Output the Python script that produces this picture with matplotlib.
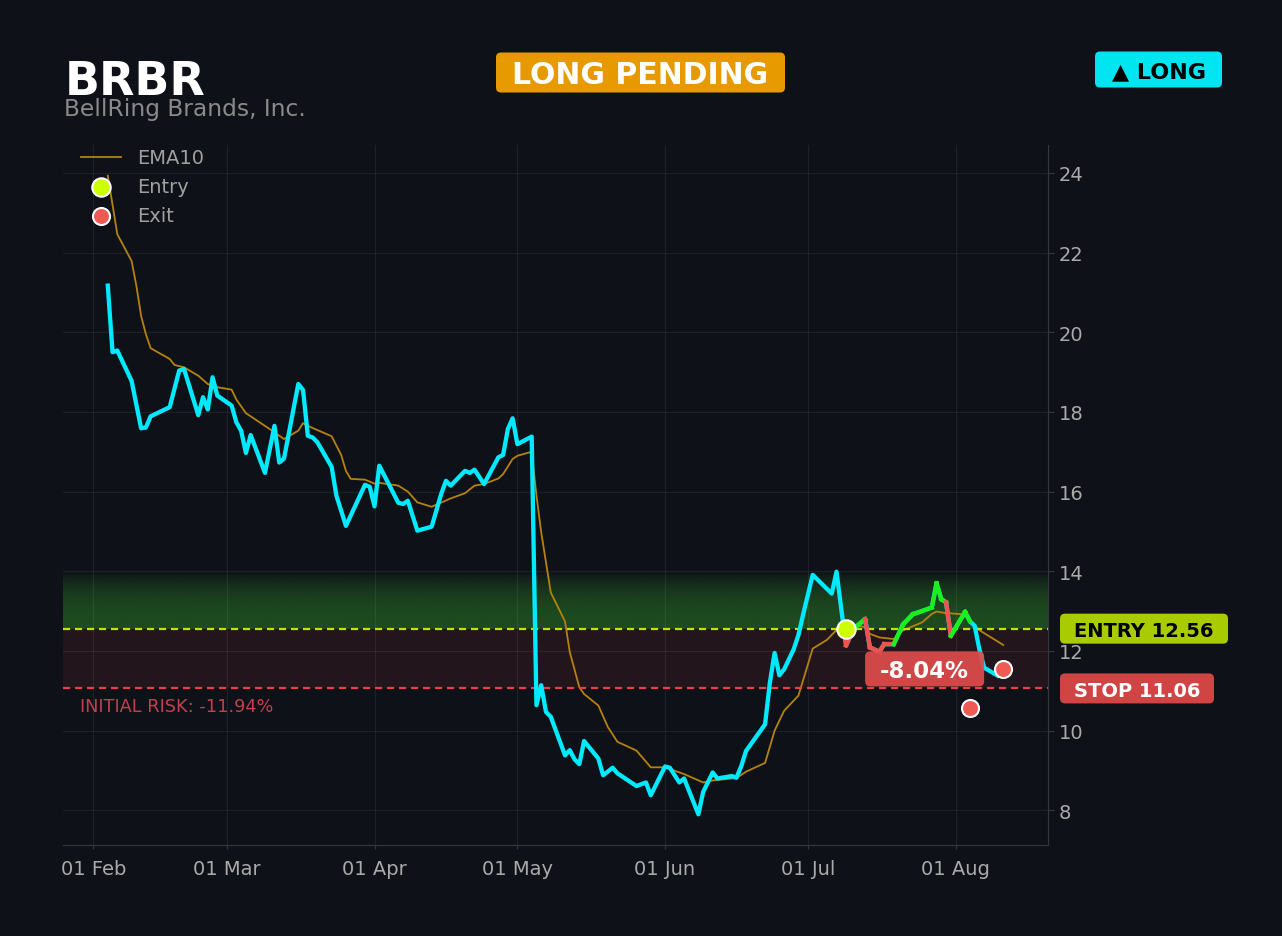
import matplotlib

matplotlib.use("Agg")
import matplotlib.dates as mdates  # noqa: E402
import matplotlib.pyplot as plt  # noqa: E402
import numpy as np  # noqa: E402
import pandas as pd  # noqa: E402
from matplotlib.patches import FancyBboxPatch  # noqa: E402

W, H, DPI = 1282, 937, 100
BG = "#0e1118"
CYAN = "#00eaff"
GREEN = "#1cf01c"
RED = "#ef5350"

ticker = "BRBR"
company = "BellRing Brands, Inc."
status = "LONG PENDING"
side = "▲ LONG"

# daily closes
close_dates = [
    "2025-02-04", "2025-02-05", "2025-02-06", "2025-02-09", "2025-02-11", "2025-02-12",
    "2025-02-13", "2025-02-17", "2025-02-19", "2025-02-20", "2025-02-23", "2025-02-24",
    "2025-02-25", "2025-02-26", "2025-02-27", "2025-03-02", "2025-03-03", "2025-03-04",
    "2025-03-05", "2025-03-06", "2025-03-09", "2025-03-11", "2025-03-12", "2025-03-13",
    "2025-03-16", "2025-03-17", "2025-03-18", "2025-03-19", "2025-03-20", "2025-03-23",
    "2025-03-24", "2025-03-26", "2025-03-30", "2025-03-31", "2025-04-01", "2025-04-02",
    "2025-04-06", "2025-04-07", "2025-04-08", "2025-04-10", "2025-04-13", "2025-04-15",
    "2025-04-16", "2025-04-17", "2025-04-20", "2025-04-21", "2025-04-22", "2025-04-24",
    "2025-04-27", "2025-04-28", "2025-04-29", "2025-04-30", "2025-05-01", "2025-05-04",
    "2025-05-05", "2025-05-06", "2025-05-07", "2025-05-08", "2025-05-11", "2025-05-12",
    "2025-05-13", "2025-05-14", "2025-05-15", "2025-05-18", "2025-05-19", "2025-05-21",
    "2025-05-22", "2025-05-26", "2025-05-28", "2025-05-29", "2025-06-01", "2025-06-02",
    "2025-06-04", "2025-06-05", "2025-06-08", "2025-06-09", "2025-06-11", "2025-06-12",
    "2025-06-15", "2025-06-16", "2025-06-17", "2025-06-18", "2025-06-22", "2025-06-23",
    "2025-06-24", "2025-06-25", "2025-06-26", "2025-06-28", "2025-06-29", "2025-06-30",
    "2025-07-02", "2025-07-06", "2025-07-07", "2025-07-08", "2025-07-09", "2025-07-10",
    "2025-07-11", "2025-07-13", "2025-07-14", "2025-07-16", "2025-07-17", "2025-07-19",
    "2025-07-21", "2025-07-23", "2025-07-27", "2025-07-28", "2025-07-29", "2025-07-30",
    "2025-07-31", "2025-08-03", "2025-08-04", "2025-08-05", "2025-08-06", "2025-08-07",
    "2025-08-10", "2025-08-11",
]
close_vals = [
    21.17, 19.50, 19.54, 18.78, 17.59, 17.61,
    17.89, 18.12, 19.04, 19.08, 17.92, 18.37,
    18.06, 18.87, 18.41, 18.16, 17.74, 17.53,
    16.97, 17.42, 16.47, 17.65, 16.73, 16.83,
    18.70, 18.55, 17.40, 17.36, 17.24, 16.62,
    15.90, 15.14, 16.17, 16.12, 15.63, 16.65,
    15.72, 15.69, 15.77, 15.02, 15.12, 15.94,
    16.27, 16.15, 16.52, 16.47, 16.55, 16.19,
    16.86, 16.92, 17.57, 17.84, 17.19, 17.38,
    10.64, 11.14, 10.47, 10.35, 9.38, 9.51,
    9.28, 9.16, 9.74, 9.30, 8.88, 9.07,
    8.93, 8.61, 8.70, 8.38, 9.10, 9.07,
    8.70, 8.80, 7.90, 8.46, 8.95, 8.80,
    8.86, 8.82, 9.11, 9.49, 10.16, 11.20,
    11.95, 11.39, 11.54, 12.04, 12.40, 12.92,
    13.91, 13.44, 13.99, 13.05, 12.14, 12.40,
    12.60, 12.80, 12.09, 11.98, 12.17, 12.17,
    12.67, 12.92, 13.09, 13.70, 13.30, 13.22,
    12.38, 12.98, 12.75, 12.63, 12.04, 11.58,
    11.37, 11.50,
]

ema_dates = [
    "2025-02-04", "2025-02-05", "2025-02-06", "2025-02-09", "2025-02-10", "2025-02-11",
    "2025-02-12", "2025-02-13", "2025-02-17", "2025-02-18", "2025-02-20", "2025-02-23",
    "2025-02-25", "2025-02-27", "2025-03-02", "2025-03-03", "2025-03-05", "2025-03-10",
    "2025-03-13", "2025-03-16", "2025-03-17", "2025-03-18", "2025-03-23", "2025-03-25",
    "2025-03-26", "2025-03-27", "2025-03-30", "2025-03-31", "2025-04-01", "2025-04-02",
    "2025-04-06", "2025-04-08", "2025-04-10", "2025-04-13", "2025-04-17", "2025-04-20",
    "2025-04-22", "2025-04-24", "2025-04-27", "2025-04-28", "2025-04-30", "2025-05-01",
    "2025-05-04", "2025-05-05", "2025-05-06", "2025-05-08", "2025-05-11", "2025-05-12",
    "2025-05-14", "2025-05-15", "2025-05-18", "2025-05-20", "2025-05-22", "2025-05-26",
    "2025-05-29", "2025-06-01", "2025-06-05", "2025-06-09", "2025-06-11", "2025-06-16",
    "2025-06-18", "2025-06-22", "2025-06-24", "2025-06-26", "2025-06-29", "2025-07-02",
    "2025-07-05", "2025-07-07", "2025-07-09", "2025-07-13", "2025-07-14", "2025-07-16",
    "2025-07-19", "2025-07-21", "2025-07-25", "2025-07-27", "2025-07-28", "2025-07-30",
    "2025-08-03", "2025-08-04", "2025-08-06", "2025-08-09", "2025-08-11",
]
ema_vals = [
    23.93, 23.20, 22.46, 21.79, 21.17, 20.41,
    19.95, 19.60, 19.33, 19.18, 19.12, 18.91,
    18.70, 18.62, 18.56, 18.31, 17.97, 17.57,
    17.32, 17.53, 17.72, 17.65, 17.39, 16.92,
    16.52, 16.32, 16.30, 16.25, 16.20, 16.22,
    16.15, 16.00, 15.73, 15.62, 15.83, 15.96,
    16.15, 16.19, 16.33, 16.44, 16.82, 16.90,
    17.00, 15.90, 14.98, 13.47, 12.74, 11.97,
    11.09, 10.92, 10.63, 10.09, 9.72, 9.50,
    9.08, 9.08, 8.91, 8.70, 8.75, 8.81,
    8.97, 9.19, 10.00, 10.50, 10.88, 12.06,
    12.28, 12.53, 12.68, 12.60, 12.43, 12.34,
    12.30, 12.52, 12.72, 12.93, 12.99, 12.95,
    12.92, 12.78, 12.52, 12.30, 12.15,
]

entry_date = "2025-07-09"
entry_price = 12.56
stop_price = 11.06
target_zone_top = 14.0
exit_dates = ["2025-08-04", "2025-08-11"]
exit_prices = [10.56, 11.55]

yticks = [8, 10, 12, 14, 16, 18, 20, 22, 24]

cd = pd.to_datetime(close_dates)
cv = np.array(close_vals)
ed = pd.to_datetime(ema_dates)
entry_dt = pd.Timestamp(entry_date)
exit_dt = pd.to_datetime(exit_dates)

fig = plt.figure(figsize=(W / DPI, H / DPI), dpi=DPI, facecolor=BG)
ax = fig.add_axes([63 / W, (H - 846) / H, 985 / W, 700 / H])
ax.set_facecolor(BG)

x0, x1 = mdates.date2num(cd[0]), mdates.date2num(cd[-1])
pad = 0.05 * (x1 - x0)

# target zone gradient + risk band
t = np.linspace(0, 1, 256)
grad = np.zeros((256, 1, 4))
grad[..., 0] = 34 / 255
grad[..., 1] = 92 / 255
grad[..., 2] = 34 / 255
grad[:, 0, 3] = 0.78 * (1 - t ** 2.5)
ax.imshow(grad, extent=[0, 1, entry_price, target_zone_top], origin="lower",
          aspect="auto", transform=ax.get_yaxis_transform(), zorder=0.2,
          interpolation="bilinear")
ax.axhspan(stop_price, entry_price, color="#22161c", lw=0, zorder=0.3)
ax.set_xlim(x0 - pad, x1 + pad)
ax.set_ylim(7.13, 24.70)

ax.axhline(entry_price, color="#c6e000", lw=1.6, dashes=(3.2, 2.2), zorder=2.5)
ax.axhline(stop_price, color="#e04444", lw=1.6, dashes=(3.2, 2.2), zorder=2.5)

ema_line, = ax.plot(ed, ema_vals, color="#b5820e", lw=1.3, zorder=2, label="EMA10")
ax.plot(cd, cv, color=CYAN, lw=3.1, zorder=3)

# trade path coloured against the entry price
mask = (cd >= entry_dt) & (cd <= exit_dt[0])
tx = [entry_dt] + list(cd[mask])
ty = [entry_price] + list(cv[mask])
for i in range(len(tx) - 1):
    c = GREEN if ty[i + 1] >= entry_price else RED
    ax.plot(tx[i:i + 2], ty[i:i + 2], color=c, lw=3.1, zorder=4)

ent = ax.scatter([entry_dt], [entry_price], s=175, color="#ccff00", edgecolor="white",
                 lw=1.5, zorder=6, label="Entry")
ex = ax.scatter(exit_dt, exit_prices, s=150, color="#f05a55", edgecolor="white",
                lw=1.5, zorder=6, label="Exit")

# axes styling
ax.grid(True, color="white", alpha=0.065, lw=0.9)
ax.set_axisbelow(True)
for s in ("left", "top"):
    ax.spines[s].set_visible(False)
for s in ("right", "bottom"):
    ax.spines[s].set_color("#353840")
ax.yaxis.tick_right()
ax.set_yticks(yticks)
ax.xaxis.set_major_locator(mdates.MonthLocator())
ax.xaxis.set_major_formatter(mdates.DateFormatter("%d %b"))
ax.tick_params(axis="y", colors="#353840", labelcolor="#aaaaaa", labelsize=14, length=4)
ax.tick_params(axis="x", colors="#353840", labelcolor="#aaaaaa", labelsize=14, length=3, pad=7)

leg = ax.legend(handles=[ema_line, ent, ex], loc="upper left", frameon=False,
                fontsize=14, labelcolor="#a0a0a0", scatterpoints=1, handlelength=2.1,
                bbox_to_anchor=(0, 1 + 14 / 700))

risk_pct = (stop_price - entry_price) / entry_price * 100
ax.annotate(f"INITIAL RISK: {risk_pct:.2f}%", xy=(0.017, stop_price),
            xycoords=ax.get_yaxis_transform(), xytext=(0, -13), textcoords="offset points",
            ha="left", va="center", fontsize=12.8, color="#c0404e", zorder=5)


def badge(cx, cy, w, h, text, fc, tc, fs, alpha=1.0):
    """Rounded label box centred at display pixel (cx, cy)."""
    box = FancyBboxPatch(((cx - w / 2) / DPI, (cy - h / 2) / DPI), w / DPI, h / DPI,
                         boxstyle="round,pad=0,rounding_size=0.05",
                         transform=fig.dpi_scale_trans, fc=fc, ec="none",
                         alpha=alpha, zorder=10)
    fig.add_artist(box)
    cap = 0.73 * fs * DPI / 72
    fig.text(cx / W, (cy - cap / 2) / H, text, ha="center", va="baseline",
             fontsize=fs, fontweight="bold", color=tc, zorder=11)


right_px = ax.transAxes.transform((1, 0))[0]
ey = ax.transData.transform((x0, entry_price))[1]
sy = ax.transData.transform((x0, stop_price))[1]
badge(right_px + 12 + 84, ey, 168, 30, f"ENTRY {entry_price:.2f}", "#a8cc00", "black", 14)
badge(right_px + 12 + 77, sy, 154, 30, f"STOP {stop_price:.2f}", "#d04444", "white", 14)

pnl = (exit_prices[-1] - entry_price) / entry_price * 100
mid = (mdates.date2num(entry_dt) + mdates.date2num(exit_dt[-1])) / 2
px, py = ax.transData.transform((mid, exit_prices[-1]))
badge(px, py, 119, 35, f"{pnl:.2f}%", "#e04c4c", "white", 16.5, alpha=0.92)

# header
fig.text(65 / W, 1 - 95 / H, ticker, fontsize=33, fontweight="bold", color="white",
         va="baseline")
fig.text(64 / W, 1 - 116 / H, company, fontsize=16.8, color="#8a8a8a", va="baseline")
badge(640.5, H - 73.5, 289, 40, status, "#e69a00", "white", 21.5)
badge(1158.5, H - 70.5, 127, 36, side, "#00e5ef", "black", 16)

fig.savefig("out.png", dpi=DPI, facecolor=BG)
plt.close(fig)
